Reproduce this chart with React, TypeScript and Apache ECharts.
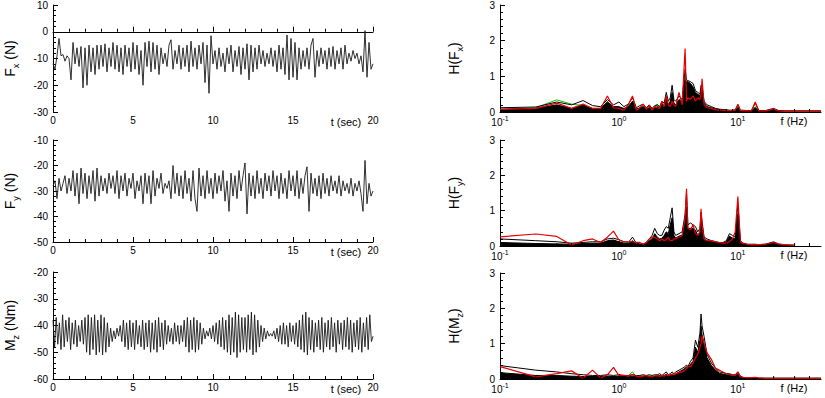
import React, { useEffect, useRef } from 'react';
import * as echarts from 'echarts';

// ---------- time series (left column) ----------
const DT_F = 0.125; // s, sampling of Fx and Fy arrays
const DT_M = 0.1; // s, sampling of Mz array

const FX_VALUES = [
  -12, -14, -9, -2.5, -9, -8.5, -11, -9,
  -10, -18, -4, -12, -6, -13, -5.5, -21,
  -6, -20, -5, -15, -6, -16, -5, -14,
  -5, -13, -4.5, -15, -6, -13, -4, -14,
  -5, -15, -6, -16, -5, -13, -6, -15,
  -4, -14, -5, -16, -7, -20, -4, -13,
  -3.5, -15, -4, -14, -5, -16, -6, -12,
  -8, -13, -5, -3, -14, -7, -12, -5,
  -14, -6, -13, -5, -15, -3.5, -13, -6,
  -14, -5, -12, -4, -19, -5, -23, -1.5,
  -12, -7, -14, -6, -13, -8, -15, -6,
  -12, -5, -15, -7, -13, -5.5, -16, -6,
  -14, -4.5, -18, -5, -15, -6, -14, -5,
  -12, -7, -13, -8, -12, -6, -13, -7,
  -15, -5, -14, -6, -16, -1.2, -18, -2.5,
  -17, -4, -18, -6, -14, -7, -13, -6,
  -14, -5, -2.5, -17, -7, -13, -6, -12,
  -7, -14, -6, -13, -5.5, -14, -7, -12,
  -6, -14, -5, -12, -8, -11, -7, -10,
  -8, -12, -9, -15, 0.4, -17, -4, -14,
  -12,
];

const FY_VALUES = [
  -28, -26, -33, -25, -30, -27, -24, -31,
  -25, -30, -22, -32, -23, -35, -21, -31,
  -23, -33, -24, -31, -22, -34, -21, -32,
  -24, -30, -25, -31, -23, -29, -24, -31,
  -22, -33, -24, -30, -23, -32, -25, -29,
  -23, -33, -26, -30, -24, -35, -23, -31,
  -24, -35, -22, -32, -25, -29, -23, -31,
  -27, -29, -26, -33, -20, -31, -23, -32,
  -24, -33, -22, -31, -25, -34, -22, -33,
  -38, -21, -32, -24, -33, -22, -31, -25,
  -33, -23, -31, -24, -30, -22, -34, -26,
  -38, -23, -32, -24, -33, -22, -30, -24,
  -19, -39, -23, -32, -24, -33, -22, -31,
  -25, -33, -23, -30, -24, -32, -22, -30,
  -24, -33, -23, -31, -25, -33, -22, -30,
  -24, -32, -22, -33, -25, -31, -24, -20.5,
  -38, -23, -31, -25, -32, -24, -33, -23,
  -31, -25, -32, -24, -30, -26, -31, -24,
  -32, -26, -30, -27, -31, -25, -32, -27,
  -30, -26, -31, -38, -18, -35, -27, -32,
  -30,
];

const MZ_VALUES = [
  -38, -48, -37, -47, -39, -49, -36, -48, -38, -46,
  -37, -49, -39, -47, -38, -48, -40, -46, -38, -47,
  -37, -50, -36, -51, -37, -49, -36, -51, -38, -50,
  -36, -51, -37, -50, -39, -48, -41, -46, -42, -45,
  -41, -44, -40, -46, -38, -48, -39, -49, -38, -48,
  -39, -49, -38, -47, -40, -48, -38, -49, -39, -48,
  -38, -50, -39, -49, -38, -50, -37, -48, -39, -49,
  -38, -47, -40, -46, -41, -47, -39, -46, -40, -47,
  -40, -46, -38, -48, -37, -50, -38, -49, -37, -50,
  -38, -49, -39, -47, -41, -45, -42, -44, -41, -45,
  -40, -46, -39, -47, -38, -48, -37, -49, -38, -50,
  -36, -51, -37, -50, -35, -52, -36, -50, -37, -49,
  -37, -50, -36, -49, -35, -51, -36, -50, -38, -48,
  -40, -46, -41, -45, -42, -44, -43, -44, -42, -45,
  -41, -46, -40, -47, -39, -47, -40, -48, -39, -46,
  -40, -47, -39, -48, -38, -49, -36, -50, -35, -51,
  -37, -49, -38, -50, -39, -48, -38, -49, -37, -50,
  -39, -48, -38, -49, -37, -48, -39, -50, -38, -47,
  -39, -49, -38, -48, -37, -49, -38, -50, -39, -48,
  -38, -49, -37, -50, -39, -48, -37, -49, -36, -46,
  -44,
];

// ---------- spectra (right column) ----------
const FREQS = [
  0.1, 0.2, 0.3, 0.4, 0.5, 0.6, 0.7, 0.8, 0.9, 1.0,
  1.1, 1.2, 1.3, 1.4, 1.5, 1.6, 1.7, 1.8, 1.9, 2.0,
  2.1, 2.2, 2.3, 2.4, 2.5, 2.6, 2.7, 2.8, 2.9, 3.0,
  3.2, 3.4, 3.6, 3.7, 3.8, 4.0, 4.2, 4.4, 4.6, 4.8,
  4.9, 5.0, 5.2, 5.5, 6.0, 6.5, 7.0, 7.5, 8.0, 8.5,
  9.0, 9.5, 10, 10.5, 11, 12, 13, 14, 15, 17,
  20, 22, 25, 30, 40, 50,
];

// dense core of the black bundle (drawn filled)
const HFX_CORE = [
  0.08, 0.1, 0.2, 0.1, 0.2, 0.1, 0.1, 0.28, 0.15, 0.15,
  0.1, 0.15, 0.3, 0.08, 0.12, 0.15, 0.08, 0.12, 0.08, 0.12,
  0.15, 0.1, 0.22, 0.18, 0.4, 0.2, 0.3, 0.55, 0.25, 0.2,
  0.35, 0.3, 0.9, 0.85, 0.85, 0.8, 0.7, 0.55, 0.5, 0.45,
  0.6, 0.55, 0.25, 0.15, 0.12, 0.08, 0.06, 0.05, 0.05, 0.04,
  0.04, 0.05, 0.12, 0.04, 0.04, 0.03, 0.03, 0.12, 0.03, 0.03,
  0.07, 0.03, 0.02, 0.02, 0.02, 0.02,
];
// upper outline of the black bundle
const HFX_BLACK = [
  0.12, 0.14, 0.28, 0.2, 0.32, 0.18, 0.15, 0.35, 0.2, 0.28,
  0.15, 0.22, 0.4, 0.12, 0.18, 0.22, 0.12, 0.2, 0.1, 0.18,
  0.2, 0.15, 0.3, 0.25, 0.55, 0.3, 0.4, 0.75, 0.35, 0.3,
  0.45, 0.35, 1.2, 0.9, 0.88, 0.85, 0.8, 0.6, 0.55, 0.5,
  0.75, 0.7, 0.3, 0.2, 0.15, 0.1, 0.08, 0.07, 0.06, 0.05,
  0.05, 0.06, 0.2, 0.05, 0.05, 0.04, 0.04, 0.25, 0.04, 0.04,
  0.1, 0.04, 0.03, 0.03, 0.03, 0.03,
];
const HFX_RED = [
  0.07, 0.1, 0.25, 0.1, 0.22, 0.1, 0.1, 0.45, 0.12, 0.1,
  0.05, 0.2, 0.45, 0.05, 0.12, 0.22, 0.08, 0.18, 0.05, 0.15,
  0.12, 0.1, 0.3, 0.15, 0.45, 0.2, 0.15, 0.3, 0.2, 0.15,
  0.55, 0.2, 1.78, 0.3, 0.4, 0.35, 0.45, 0.3, 0.4, 0.35,
  0.5, 0.93, 0.2, 0.12, 0.1, 0.06, 0.05, 0.05, 0.04, 0.04,
  0.04, 0.05, 0.22, 0.04, 0.04, 0.03, 0.03, 0.28, 0.03, 0.03,
  0.08, 0.03, 0.02, 0.02, 0.02, 0.02,
];
const HFX_GREEN = [
  0.06, 0.12, 0.34, 0.22, 0.18, 0.1, 0.08, 0.3, 0.1, 0.12,
  0.08, 0.15, 0.3, 0.08, 0.1, 0.15, 0.08, 0.12, 0.08, 0.12,
  0.22, 0.1, 0.25, 0.12, 0.35, 0.15, 0.2, 0.25, 0.15, 0.12,
  0.3, 0.2, 1.0, 0.3, 0.35, 0.3, 0.35, 0.25, 0.3, 0.25,
  0.4, 0.6, 0.15, 0.1, 0.08, 0.05, 0.04, 0.04, 0.03, 0.03,
  0.03, 0.04, 0.15, 0.03, 0.03, 0.03, 0.03, 0.15, 0.03, 0.03,
  0.05, 0.02, 0.02, 0.02, 0.02, 0.02,
];

const HFY_CORE = [
  0.1, 0.07, 0.06, 0.05, 0.07, 0.08, 0.08, 0.15, 0.17, 0.12,
  0.08, 0.07, 0.15, 0.05, 0.04, 0.04, 0.07, 0.15, 0.2, 0.35,
  0.25, 0.2, 0.22, 0.3, 0.4, 0.35, 0.6, 0.8, 0.3, 0.22,
  0.28, 0.3, 0.7, 1.1, 0.5, 0.5, 0.5, 0.45, 0.3, 0.4,
  0.75, 0.5, 0.2, 0.15, 0.12, 0.1, 0.08, 0.08, 0.12, 0.28,
  0.22, 0.2, 0.9, 0.1, 0.05, 0.04, 0.04, 0.04, 0.03, 0.04,
  0.08, 0.04, 0.02, 0.02, null, null,
];
const HFY_BLACK = [
  0.2, 0.15, 0.12, 0.08, 0.1, 0.12, 0.12, 0.2, 0.22, 0.18,
  0.12, 0.1, 0.25, 0.08, 0.06, 0.06, 0.1, 0.2, 0.3, 0.5,
  0.35, 0.3, 0.3, 0.45, 0.55, 0.5, 0.8, 1.08, 0.4, 0.3,
  0.35, 0.4, 0.9, 1.5, 0.6, 0.65, 0.6, 0.55, 0.4, 0.5,
  0.95, 0.7, 0.25, 0.2, 0.15, 0.12, 0.1, 0.1, 0.15, 0.35,
  0.3, 0.25, 1.2, 0.15, 0.08, 0.05, 0.05, 0.05, 0.04, 0.05,
  0.12, 0.05, 0.03, 0.02, null, null,
];
const HFY_RED = [
  0.26, 0.34, 0.27, 0.03, 0.15, 0.2, 0.1, 0.25, 0.42, 0.17,
  0.12, 0.12, 0.12, 0.1, 0.1, 0.05, 0.1, 0.2, 0.25, 0.25,
  0.2, 0.15, 0.2, 0.15, 0.18, 0.25, 0.15, 0.15, 0.2, 0.2,
  0.25, 0.3, 0.8, 1.62, 0.5, 0.45, 0.6, 0.35, 0.3, 0.4,
  1.05, 0.6, 0.2, 0.15, 0.15, 0.12, 0.1, 0.08, 0.08, 0.12,
  0.2, 0.4, 1.4, 0.12, 0.08, 0.05, 0.04, 0.04, 0.04, 0.05,
  0.1, 0.06, 0.03, 0.02, null, null,
];
const HFY_GREEN = [
  0.03, 0.03, 0.02, 0.02, 0.04, 0.05, 0.05, 0.12, 0.15, 0.1,
  0.08, 0.06, 0.1, 0.05, 0.04, 0.04, 0.06, 0.1, 0.15, 0.2,
  0.15, 0.15, 0.12, 0.15, 0.12, 0.15, 0.1, 0.2, 0.15, 0.12,
  0.2, 0.2, 0.5, 0.8, 0.3, 0.3, 0.35, 0.3, 0.2, 0.25,
  0.6, 0.3, 0.15, 0.14, 0.1, 0.08, 0.07, 0.06, 0.1, 0.15,
  0.12, 0.15, 0.6, 0.08, 0.05, 0.04, 0.04, 0.04, 0.03, 0.04,
  0.06, 0.04, 0.02, 0.02, null, null,
];

const HMZ_CORE = [
  0.18, 0.1, 0.1, 0.08, 0.07, 0.07, 0.07, 0.08, 0.07, 0.08,
  0.07, 0.07, 0.08, 0.07, 0.07, 0.08, 0.07, 0.08, 0.07, 0.08,
  0.08, 0.1, 0.07, 0.1, 0.14, 0.08, 0.1, 0.15, 0.1, 0.15,
  0.2, 0.25, 0.3, 0.35, 0.3, 0.42, 0.5, 0.9, 0.75, 1.1,
  1.5, 1.25, 1.0, 0.6, 0.38, 0.25, 0.16, 0.14, 0.12, 0.12,
  0.1, 0.1, 0.15, 0.06, 0.04, 0.02, 0.02, 0.02, 0.02, 0.02,
  0.02, 0.02, 0.02, 0.02, 0.02, 0.02,
];
const HMZ_BLACK = [
  0.38, 0.25, 0.2, 0.15, 0.12, 0.1, 0.1, 0.12, 0.1, 0.12,
  0.1, 0.1, 0.12, 0.1, 0.1, 0.12, 0.1, 0.12, 0.1, 0.12,
  0.12, 0.15, 0.1, 0.15, 0.2, 0.12, 0.15, 0.2, 0.15, 0.2,
  0.25, 0.3, 0.35, 0.4, 0.35, 0.5, 0.6, 1.1, 0.9, 1.3,
  1.84, 1.5, 1.2, 0.7, 0.45, 0.3, 0.2, 0.18, 0.15, 0.15,
  0.12, 0.12, 0.2, 0.08, 0.05, 0.03, 0.03, 0.02, 0.02, 0.02,
  0.02, 0.02, 0.02, 0.02, 0.02, 0.02,
];
const HMZ_RED = [
  0.35, 0.06, 0.15, 0.23, 0.02, 0.25, 0.03, 0.12, 0.33, 0.1,
  0.1, 0.08, 0.12, 0.08, 0.06, 0.08, 0.1, 0.07, 0.06, 0.08,
  0.1, 0.07, 0.1, 0.08, 0.12, 0.1, 0.13, 0.12, 0.15, 0.14,
  0.18, 0.2, 0.25, 0.3, 0.35, 0.35, 0.45, 0.6, 0.7, 0.9,
  1.0, 1.22, 1.0, 0.75, 0.55, 0.3, 0.25, 0.2, 0.15, 0.12,
  0.1, 0.1, 0.2, 0.06, 0.05, 0.04, 0.04, 0.05, 0.03, 0.02,
  0.02, 0.02, 0.02, 0.02, 0.02, 0.02,
];
const HMZ_GREEN = [
  0.02, 0.02, 0.02, 0.02, 0.02, 0.03, 0.03, 0.04, 0.05, 0.05,
  0.08, 0.1, 0.2, 0.06, 0.05, 0.06, 0.1, 0.05, 0.04, 0.04,
  0.06, 0.04, 0.03, 0.03, 0.04, 0.03, 0.03, 0.03, 0.03, 0.03,
  0.03, 0.03, 0.03, 0.04, 0.04, 0.05, 0.06, 0.05, 0.06, 0.05,
  0.08, 0.1, 0.06, 0.04, 0.03, 0.02, 0.02, 0.02, 0.02, 0.02,
  0.02, 0.02, 0.02, 0.02, 0.01, 0.01, 0.01, 0.01, 0.01, 0.01,
  0.01, 0.01, 0.01, 0.01, 0.01, 0.01,
];

const LOG_MINOR_TICKS = [
  0.2, 0.3, 0.4, 0.5, 0.6, 0.7, 0.8, 0.9,
  2, 3, 4, 5, 6, 7, 8, 9,
  20, 30, 40,
];

const LEFT_Y = [
  { min: -30, max: 10, title: '{a|F}{s|x}{a| (N)}' },
  { min: -50, max: -10, title: '{a|F}{s|y}{a| (N)}' },
  { min: -60, max: -20, title: '{a|M}{s|z}{a| (Nm)}' },
];
const RIGHT_TITLES = ['{a|H(F}{s|x}{a|)}', '{a|H(F}{s|y}{a|)}', '{a|H(M}{s|z}{a|)}'];

const FONT = 'Liberation Sans, Arial, sans-serif';

function timePairs(vals: number[], dt: number) {
  return vals.map((v, i) => [+(i * dt).toFixed(3), v]);
}
function specPairs(vals: (number | null)[]) {
  const out: number[][] = [];
  vals.forEach((v, i) => {
    if (v !== null) out.push([FREQS[i], v]);
  });
  return out;
}

function buildOption() {
  const leftGrids = [
    { left: 53, top: 5, width: 320, height: 107 },
    { left: 53, top: 140, width: 320, height: 102 },
    { left: 53, top: 272, width: 320, height: 107 },
  ];
  const rightGrids = [
    { left: 500, top: 5, width: 321, height: 107 },
    { left: 500, top: 140, width: 321, height: 106 },
    { left: 500, top: 273, width: 321, height: 106 },
  ];
  const grid = [...leftGrids, ...rightGrids].map((g) => ({ ...g, containLabel: false }));

  const axisLine = { show: true, lineStyle: { color: '#000', width: 1 } };
  const axisTick = { show: true, inside: true, length: 5, lineStyle: { color: '#000' } };
  const labelStyle = { color: '#000', fontSize: 10, fontFamily: FONT };
  const titleRich = {
    a: { fontSize: 14, fontFamily: FONT, color: '#000', lineHeight: 20 },
    s: { fontSize: 9, fontFamily: FONT, color: '#000', lineHeight: 10, verticalAlign: 'bottom' },
  };

  const xAxis: any[] = [];
  const yAxis: any[] = [];
  const series: any[] = [];

  const tsData = [timePairs(FX_VALUES, DT_F), timePairs(FY_VALUES, DT_F), timePairs(MZ_VALUES, DT_M)];
  for (let k = 0; k < 3; k++) {
    xAxis.push({
      gridIndex: k,
      type: 'value',
      min: 0,
      max: 20,
      interval: 5,
      axisLine,
      axisTick,
      minorTick: { show: true, splitNumber: 5, length: 3, lineStyle: { color: '#000' } },
      splitLine: { show: false },
      axisLabel: { ...labelStyle, margin: 3 },
    });
    yAxis.push({
      gridIndex: k,
      type: 'value',
      min: LEFT_Y[k].min,
      max: LEFT_Y[k].max,
      interval: 10,
      axisLine,
      axisTick,
      minorTick: { show: true, splitNumber: 5, length: 3, lineStyle: { color: '#000' } },
      splitLine: { show: false },
      axisLabel: { ...labelStyle, margin: 5 },
      name: LEFT_Y[k].title,
      nameLocation: 'middle',
      nameRotate: 90,
      nameGap: 33,
      nameTextStyle: { rich: titleRich },
    });
    series.push({
      type: 'line',
      xAxisIndex: k,
      yAxisIndex: k,
      data: tsData[k],
      showSymbol: false,
      symbol: 'none',
      lineStyle: { color: '#1a1a1a', width: 0.9 },
      silent: true,
    });
  }

  const spec = [
    [HFX_CORE, HFX_BLACK, HFX_GREEN, HFX_RED],
    [HFY_CORE, HFY_BLACK, HFY_GREEN, HFY_RED],
    [HMZ_CORE, HMZ_BLACK, HMZ_GREEN, HMZ_RED],
  ];
  for (let k = 0; k < 3; k++) {
    const gi = 3 + k;
    xAxis.push({
      gridIndex: gi,
      type: 'log',
      logBase: 10,
      min: 0.1,
      max: 50,
      axisLine,
      axisTick,
      splitLine: { show: false },
      axisLabel: {
        ...labelStyle,
        margin: 3,
        showMaxLabel: false,
        formatter: (v: number) => {
          const lg = Math.log10(v);
          const e = Math.round(lg);
          if (Math.abs(lg - e) > 1e-6) return '';
          return `{b|10}{s|${e}}`;
        },
        rich: {
          b: { fontSize: 10, fontFamily: FONT, color: '#000', lineHeight: 14 },
          s: { fontSize: 7, fontFamily: FONT, color: '#000', lineHeight: 8, verticalAlign: 'top' },
        },
      },
    });
    yAxis.push({
      gridIndex: gi,
      type: 'value',
      min: 0,
      max: 3,
      interval: 1,
      axisLine,
      axisTick,
      minorTick: { show: true, splitNumber: 5, length: 3, lineStyle: { color: '#000' } },
      splitLine: { show: false },
      axisLabel: { ...labelStyle, margin: 5 },
      name: RIGHT_TITLES[k],
      nameLocation: 'middle',
      nameRotate: 90,
      nameGap: 36,
      nameTextStyle: { rich: titleRich },
    });
    const [core, blk, grn, red] = spec[k];
    series.push({
      type: 'line', xAxisIndex: gi, yAxisIndex: gi, data: specPairs(grn),
      showSymbol: false, symbol: 'none', silent: true, z: 1,
      lineStyle: { color: '#00c000', width: 1 },
    });
    series.push({
      type: 'line', xAxisIndex: gi, yAxisIndex: gi, data: specPairs(core),
      showSymbol: false, symbol: 'none', silent: true, z: 2,
      lineStyle: { color: '#000', width: 1 },
      areaStyle: { color: '#000', opacity: 1 },
    });
    series.push({
      type: 'line', xAxisIndex: gi, yAxisIndex: gi, data: specPairs(blk),
      showSymbol: false, symbol: 'none', silent: true, z: 2,
      lineStyle: { color: '#000', width: 1 },
    });
    series.push({
      type: 'line', xAxisIndex: gi, yAxisIndex: gi, data: specPairs(red),
      showSymbol: false, symbol: 'none', silent: true, z: 4,
      lineStyle: { color: '#e80000', width: 1.2 },
    });
    series.push({
      type: 'custom', xAxisIndex: gi, yAxisIndex: gi, silent: true, z: 6,
      data: LOG_MINOR_TICKS.map((f) => [f, 0]),
      renderItem: (_p: any, api: any) => {
        const pt = api.coord([api.value(0), 0]);
        return {
          type: 'line',
          shape: { x1: pt[0], y1: pt[1], x2: pt[0], y2: pt[1] - 3 },
          style: { stroke: '#000', lineWidth: 1 },
        };
      },
    });
  }

  const tStyle = { fill: '#000', fontSize: 11, fontFamily: FONT, textAlign: 'center', textVerticalAlign: 'middle' };
  const graphic: any[] = [];
  const axisBottoms = [
    [112, 112],
    [242, 246],
    [379, 379],
  ];
  for (let k = 0; k < 3; k++) {
    graphic.push({ type: 'text', x: 346, y: axisBottoms[k][0] + 10, style: { ...tStyle, text: 't (sec)' } });
    graphic.push({ type: 'text', x: 794, y: axisBottoms[k][1] + 9, style: { ...tStyle, text: 'f (Hz)' } });
  }

  return {
    animation: false,
    backgroundColor: '#fff',
    textStyle: { fontFamily: FONT },
    grid,
    xAxis,
    yAxis,
    series,
    graphic,
  };
}

export default function App() {
  const ref = useRef<HTMLDivElement>(null);
  useEffect(() => {
    if (!ref.current) return;
    const chart = echarts.init(ref.current, null, { renderer: 'svg' });
    chart.setOption(buildOption() as any);
    return () => chart.dispose();
  }, []);
  return (
    <div
      ref={ref}
      style={{ position: 'absolute', left: 0, top: 0, width: 825, height: 398, background: '#fff' }}
    />
  );
}
